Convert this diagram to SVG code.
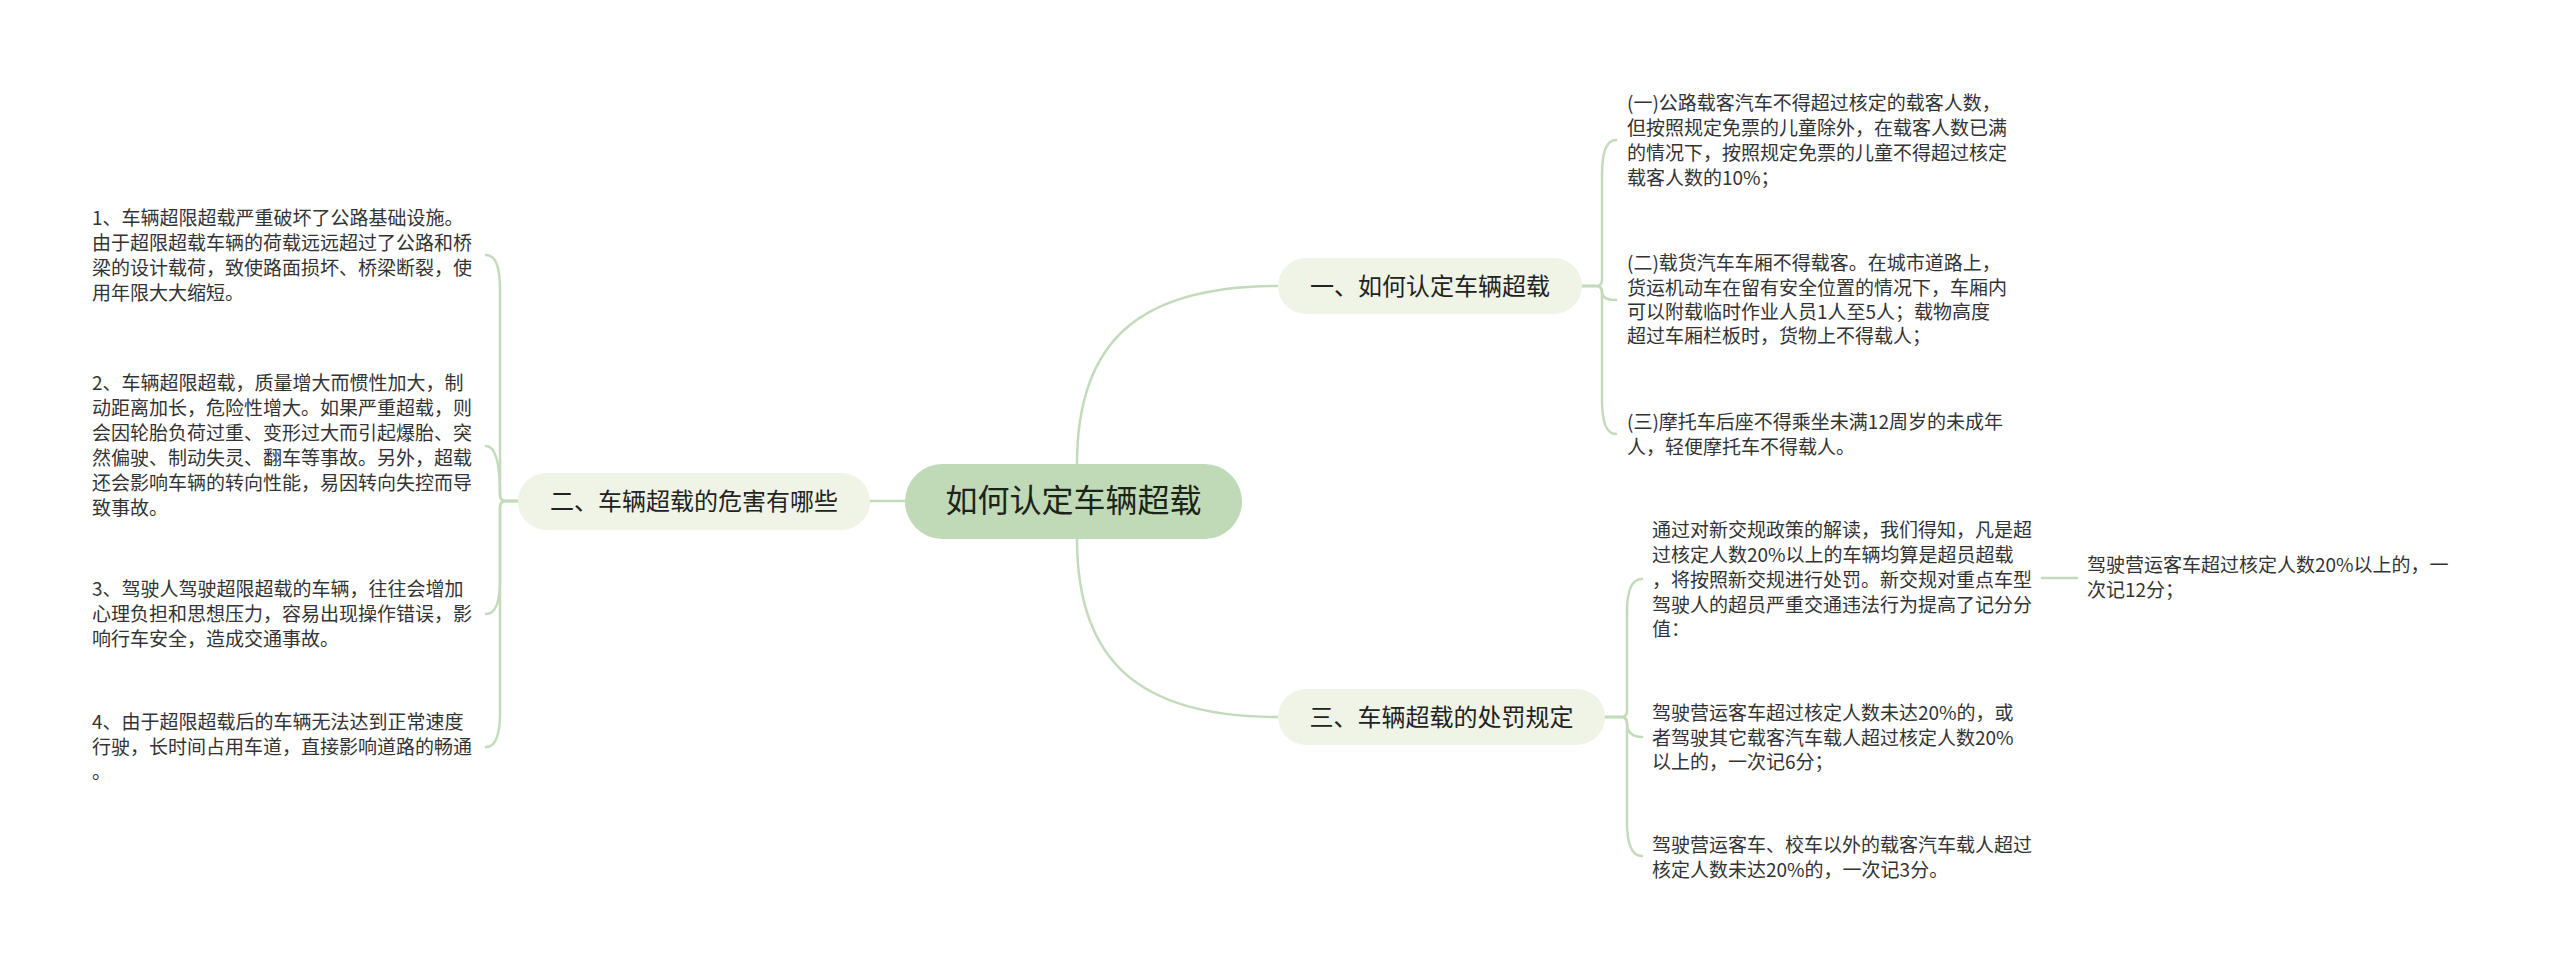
<svg xmlns="http://www.w3.org/2000/svg" width="2560" height="973" viewBox="0 0 2560 973">
<style>
.cn{fill:none;stroke:#c4dbbb;stroke-width:2.5;stroke-linecap:round}
.root{fill:#c0d9b7}
.sub{fill:#eff4e6}
.rt{font-family:"Noto Sans CJK SC","Microsoft YaHei",sans-serif;font-size:32px;fill:#1c2419;text-anchor:middle}
.st{font-family:"Noto Sans CJK SC","Microsoft YaHei",sans-serif;font-size:24px;fill:#222;text-anchor:middle}
.lt{font-family:"Noto Sans CJK SC","Microsoft YaHei",sans-serif;font-size:19px;fill:#333}
</style>
<rect width="2560" height="973" fill="#ffffff"/>
<g id="connectors">
<path class="cn" d="M1077,464 C1077,340 1140,286 1278,286"/>
<path class="cn" d="M1077,539 C1077,662 1140,717 1278,717"/>
<path class="cn" d="M905,501 H870"/>
<path class="cn" d="M1582,286 H1596 Q1602,286 1602,280 V175 Q1602,140 1616,140"/>
<path class="cn" d="M1582,286 H1596 Q1602,286 1602,292 Q1602,300 1616,300"/>
<path class="cn" d="M1582,286 H1596 Q1602,286 1602,292 V400 Q1602,434 1616,434"/>
<path class="cn" d="M1605,717 H1621 Q1627,717 1627,711 V612 Q1627,579 1642,579"/>
<path class="cn" d="M1605,717 H1621 Q1627,717 1627,723 Q1627,737 1642,737"/>
<path class="cn" d="M1605,717 H1621 Q1627,717 1627,723 V822 Q1627,856 1642,856"/>
<path class="cn" d="M2042,578 H2077"/>
<path class="cn" d="M518,501 H506 Q500,501 500,495 V289 Q500,255 486,255"/>
<path class="cn" d="M518,501 H506 Q500,501 500,495 Q500,446 486,446"/>
<path class="cn" d="M518,501 H506 Q500,501 500,507 V580 Q500,614 486,614"/>
<path class="cn" d="M518,501 H506 Q500,501 500,507 V713 Q500,747 486,747"/>
</g>
<g id="root">
<rect class="root" x="905" y="464" width="337" height="75" rx="37.5"/>
<text class="rt" x="1073.5" y="512">如何认定车辆超载</text>
</g>
<g id="node1">
<rect class="sub" x="1278" y="258" width="304" height="56" rx="28"/>
<text class="st" x="1430" y="294.5">一、如何认定车辆超载</text>
</g>
<g id="node2">
<rect class="sub" x="518" y="473" width="352" height="57" rx="28.5"/>
<text class="st" x="694" y="510">二、车辆超载的危害有哪些</text>
</g>
<g id="node3">
<rect class="sub" x="1278" y="689" width="327" height="56" rx="28"/>
<text class="st" x="1441.5" y="725.5">三、车辆超载的处罚规定</text>
</g>
<g id="leaf1a">
<text class="lt" x="1627" y="110">(一)公路载客汽车不得超过核定的载客人数，</text>
<text class="lt" x="1627" y="135">但按照规定免票的儿童除外，在载客人数已满</text>
<text class="lt" x="1627" y="160">的情况下，按照规定免票的儿童不得超过核定</text>
<text class="lt" x="1627" y="185">载客人数的10%；</text>
</g>
<g id="leaf1b">
<text class="lt" x="1627" y="270">(二)载货汽车车厢不得载客。在城市道路上，</text>
<text class="lt" x="1627" y="295">货运机动车在留有安全位置的情况下，车厢内</text>
<text class="lt" x="1627" y="319">可以附载临时作业人员1人至5人；载物高度</text>
<text class="lt" x="1627" y="343">超过车厢栏板时，货物上不得载人；</text>
</g>
<g id="leaf1c">
<text class="lt" x="1627" y="429">(三)摩托车后座不得乘坐未满12周岁的未成年</text>
<text class="lt" x="1627" y="454">人，轻便摩托车不得载人。</text>
</g>
<g id="leaf2a">
<text class="lt" x="92" y="225">1、车辆超限超载严重破坏了公路基础设施。</text>
<text class="lt" x="92" y="250">由于超限超载车辆的荷载远远超过了公路和桥</text>
<text class="lt" x="92" y="275">梁的设计载荷，致使路面损坏、桥梁断裂，使</text>
<text class="lt" x="92" y="300">用年限大大缩短。</text>
</g>
<g id="leaf2b">
<text class="lt" x="92" y="390">2、车辆超限超载，质量增大而惯性加大，制</text>
<text class="lt" x="92" y="415">动距离加长，危险性增大。如果严重超载，则</text>
<text class="lt" x="92" y="440">会因轮胎负荷过重、变形过大而引起爆胎、突</text>
<text class="lt" x="92" y="465">然偏驶、制动失灵、翻车等事故。另外，超载</text>
<text class="lt" x="92" y="490">还会影响车辆的转向性能，易因转向失控而导</text>
<text class="lt" x="92" y="515">致事故。</text>
</g>
<g id="leaf2c">
<text class="lt" x="92" y="596">3、驾驶人驾驶超限超载的车辆，往往会增加</text>
<text class="lt" x="92" y="621">心理负担和思想压力，容易出现操作错误，影</text>
<text class="lt" x="92" y="646">响行车安全，造成交通事故。</text>
</g>
<g id="leaf2d">
<text class="lt" x="92" y="729">4、由于超限超载后的车辆无法达到正常速度</text>
<text class="lt" x="92" y="754">行驶，长时间占用车道，直接影响道路的畅通</text>
<text class="lt" x="92" y="779">。</text>
</g>
<g id="leaf3a">
<text class="lt" x="1652" y="537">通过对新交规政策的解读，我们得知，凡是超</text>
<text class="lt" x="1652" y="562">过核定人数20%以上的车辆均算是超员超载</text>
<text class="lt" x="1652" y="587">，将按照新交规进行处罚。新交规对重点车型</text>
<text class="lt" x="1652" y="612">驾驶人的超员严重交通违法行为提高了记分分</text>
<text class="lt" x="1652" y="636">值：</text>
</g>
<g id="leaf3a1">
<text class="lt" x="2087" y="572">驾驶营运客车超过核定人数20%以上的，一</text>
<text class="lt" x="2087" y="597">次记12分；</text>
</g>
<g id="leaf3b">
<text class="lt" x="1652" y="720">驾驶营运客车超过核定人数未达20%的，或</text>
<text class="lt" x="1652" y="745">者驾驶其它载客汽车载人超过核定人数20%</text>
<text class="lt" x="1652" y="769">以上的，一次记6分；</text>
</g>
<g id="leaf3c">
<text class="lt" x="1652" y="852">驾驶营运客车、校车以外的载客汽车载人超过</text>
<text class="lt" x="1652" y="877">核定人数未达20%的，一次记3分。</text>
</g>
</svg>
